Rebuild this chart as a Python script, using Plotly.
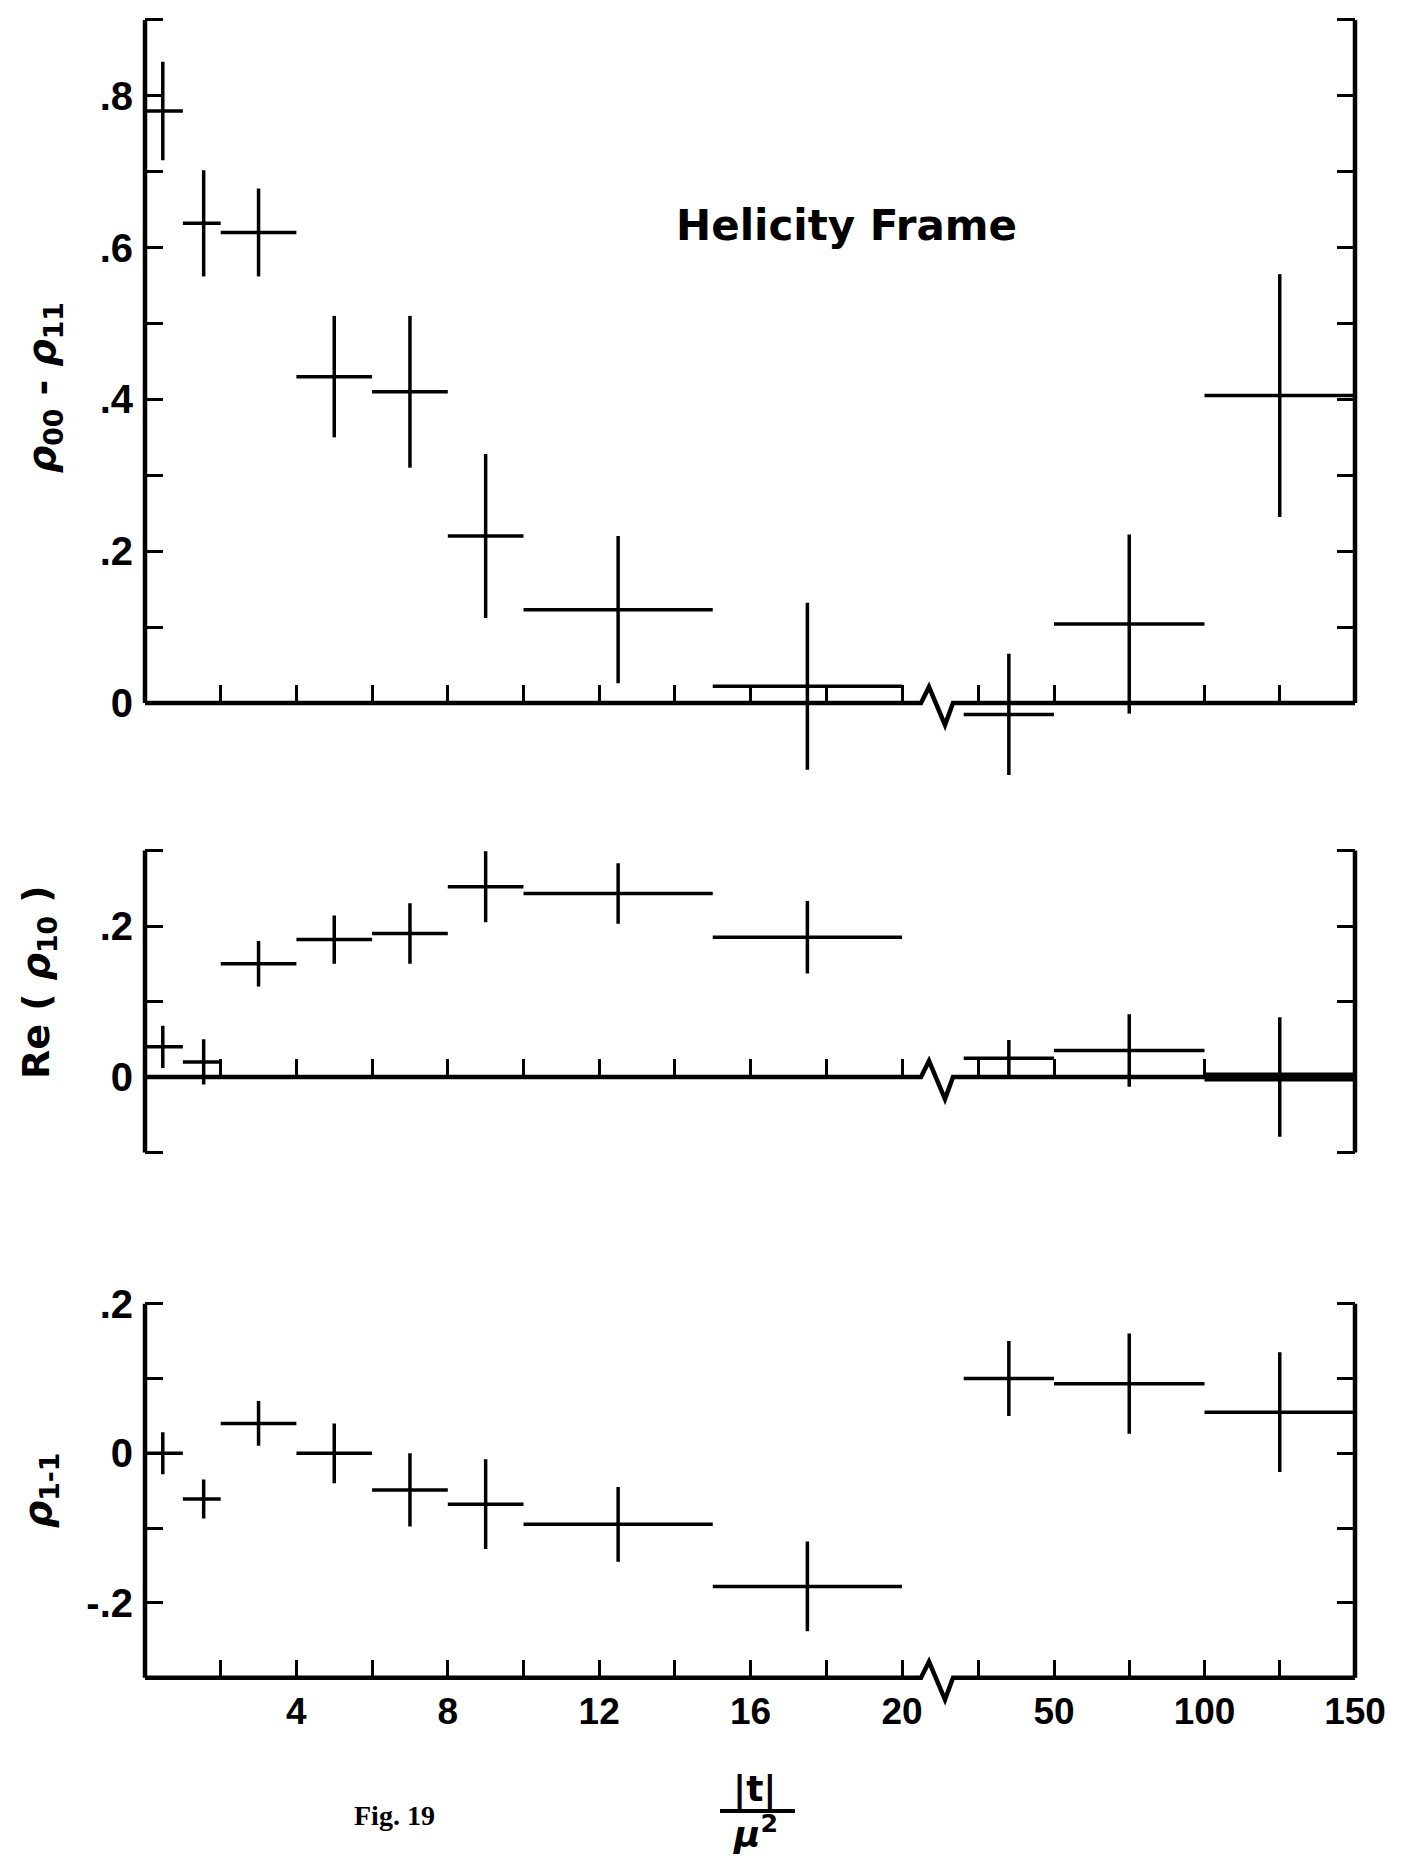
import plotly.graph_objects as go

# ---------------- data ----------------
# |t|/mu^2 bins: lower edge, upper edge, position of the vertical error bar
t_lo = [0, 1, 2, 4, 6, 8, 10, 15, 20, 50, 100]
t_hi = [1, 2, 4, 6, 8, 10, 15, 20, 50, 100, 150]
t_c = [0.47, 1.55, 3.0, 5.0, 7.0, 9.0, 12.5, 17.5, 35, 75, 125]

rho00_minus_rho11 = [0.78, 0.632, 0.62, 0.43, 0.41, 0.22, 0.123, 0.022, -0.015, 0.104, 0.405]
rho00_minus_rho11_err = [0.065, 0.07, 0.058, 0.08, 0.10, 0.108, 0.097, 0.11, 0.08, 0.118, 0.16]

re_rho10 = [0.04, 0.02, 0.15, 0.182, 0.19, 0.252, 0.243, 0.185, 0.025, 0.035, 0.0]
re_rho10_err = [0.028, 0.03, 0.03, 0.032, 0.04, 0.047, 0.04, 0.048, 0.024, 0.048, 0.079]

rho1m1 = [0.0, -0.061, 0.04, 0.0, -0.049, -0.068, -0.095, -0.178, 0.10, 0.093, 0.055]
rho1m1_err = [0.028, 0.026, 0.03, 0.04, 0.049, 0.06, 0.05, 0.06, 0.05, 0.067, 0.08]

# axis ticks / labels
xa_tickvals = [2, 4, 6, 8, 10, 12, 14, 16, 18, 20]
xa_labeled = [4, 8, 12, 16, 20]
xb_tickvals = [25, 50, 75, 100, 125, 150]
xb_labeled = [50, 100, 150]

top_ticks = [round(0.1 * i, 1) for i in range(0, 10)]
top_labels = {0.8: ".8", 0.6: ".6", 0.4: ".4", 0.2: ".2", 0.0: "0"}
mid_ticks = [-0.1, 0.0, 0.1, 0.2, 0.3]
mid_labels = {0.2: ".2", 0.0: "0"}
bot_ticks = [-0.3, -0.2, -0.1, 0.0, 0.1, 0.2]
bot_labels = {0.2: ".2", 0.0: "0", -0.2: "-.2"}

BREAK_INDEX = 8  # first bin drawn on the compressed part of the axis

# ---------------- geometry ----------------
W, H = 1416, 1860
FONT = "DejaVu Sans"
TICKFONT = "Liberation Sans"
XA_PX0, XA_PPU = 145.0, 37.85          # linear part 0..20
XB_REF, XB_PX_REF, XB_PPU = 50.0, 1054.0, 3.01   # compressed part 20..150
XA_DOM = (145.0, 921.0)
XB_DOM = (953.0, 1355.0)
xa_range = [0.0, (XA_DOM[1] - XA_PX0) / XA_PPU]
xb_range = [XB_REF - (XB_PX_REF - XB_DOM[0]) / XB_PPU,
            XB_REF + (XB_DOM[1] - XB_PX_REF) / XB_PPU]

panels = [
    dict(vals=rho00_minus_rho11, errs=rho00_minus_rho11_err, zero=703.0, ppu=759.0,
         rng=(-0.13, 0.92), axis=(0.0, 0.9), base=0.0, ticks=top_ticks, labels=top_labels,
         title="<i>ρ</i><sub>00</sub> - <i>ρ</i><sub>11</sub>", title_xy=(44, 388)),
    dict(vals=re_rho10, errs=re_rho10_err, zero=1077.0, ppu=755.0,
         rng=(-0.13, 0.32), axis=(-0.1, 0.3), base=0.0, ticks=mid_ticks, labels=mid_labels,
         title="Re ( <i>ρ</i><sub>10</sub> )", title_xy=(38, 982)),
    dict(vals=rho1m1, errs=rho1m1_err, zero=1453.3, ppu=748.0,
         rng=(-0.32, 0.22), axis=(-0.3, 0.2), base=-0.3, ticks=bot_ticks, labels=bot_labels,
         title="<i>ρ</i><sub>1-1</sub>", title_xy=(40, 1491)),
]

TICK = dict(ticks="inside", ticklen=18, tickwidth=3, tickcolor="black")
MINOR = dict(ticks="inside", ticklen=18, tickwidth=3, tickcolor="black", showgrid=False)


def fx(px):
    return px / W


def fy(py):
    return 1 - py / H


fig = go.Figure()
layout = dict(width=W, height=H, autosize=False,
              margin=dict(l=0, r=0, t=0, b=0, pad=0, autoexpand=False),
              paper_bgcolor="white", plot_bgcolor="rgba(0,0,0,0)",
              showlegend=False, shapes=[], annotations=[])

for i, p in enumerate(panels):
    nA, nB = 2 * i + 1, 2 * i + 2
    nL, nR = i + 1, i + 4
    xa_ref = "x" if nA == 1 else f"x{nA}"
    xb_ref = f"x{nB}"
    yl_ref = "y" if nL == 1 else f"y{nL}"
    yr_ref = f"y{nR}"

    def ypx(v, p=p):
        return p["zero"] - p["ppu"] * v

    py_top = ypx(p["rng"][1])
    py_bot = ypx(p["rng"][0])
    base_px = ypx(p["base"])
    is_bottom = (i == len(panels) - 1)

    # x axes (linear part + compressed part), sitting on the baseline
    common_x = dict(anchor="free", position=fy(base_px), side="bottom", showline=False,
                    showgrid=False, zeroline=False, fixedrange=True, automargin=False,
                    tickfont=dict(family=TICKFONT, size=37, color="black", weight="bold"),
                    ticklabelstandoff=8, showticklabels=is_bottom, tickmode="array", **TICK)
    for key, dom, rng, vals, lab in (
            ("xaxis" if nA == 1 else f"xaxis{nA}", XA_DOM, xa_range, xa_tickvals, xa_labeled),
            (f"xaxis{nB}", XB_DOM, xb_range, xb_tickvals, xb_labeled)):
        ax = dict(common_x, domain=[fx(dom[0]), fx(dom[1])], range=rng)
        if is_bottom:
            ax.update(tickvals=lab, ticktext=[str(v) for v in lab],
                      minor=dict(MINOR, tickmode="array",
                                 tickvals=[v for v in vals if v not in lab]))
        else:
            ax.update(tickvals=vals)
        layout[key] = ax

    common_y = dict(range=list(p["rng"]), showline=False, showgrid=False, zeroline=False,
                    fixedrange=True, automargin=False, tickmode="array", **TICK)
    lab_vals = [v for v in p["ticks"] if v in p["labels"]]
    layout["yaxis" if nL == 1 else f"yaxis{nL}"] = dict(
        common_y, domain=[fy(py_bot), fy(py_top)], anchor=xa_ref, side="left",
        tickvals=lab_vals, ticktext=[p["labels"][v] for v in lab_vals],
        minor=dict(MINOR, tickmode="array",
                   tickvals=[v for v in p["ticks"] if v not in p["labels"]]),
        tickfont=dict(family=TICKFONT, size=40, color="black", weight="bold"),
        ticklabelstandoff=11)
    layout[f"yaxis{nR}"] = dict(common_y, overlaying=yl_ref, anchor=xb_ref, side="right",
                                tickvals=p["ticks"], showticklabels=False)

    # data crosses
    segs = [(range(0, BREAK_INDEX), xa_ref), (range(BREAK_INDEX, len(t_c)), xb_ref)]
    for idx, xref in segs:
        idx = list(idx)
        thick_idx = [k for k in idx if i == 1 and k == len(t_c) - 1]
        norm_idx = [k for k in idx if k not in thick_idx]
        for group, xthick in ((norm_idx, 3.5), (thick_idx, 9)):
            if not group:
                continue
            fig.add_trace(go.Scatter(
                x=[t_c[k] for k in group], y=[p["vals"][k] for k in group],
                mode="markers", marker=dict(size=4, color="black"),
                error_x=dict(type="data", symmetric=False,
                             array=[t_hi[k] - t_c[k] for k in group],
                             arrayminus=[t_c[k] - t_lo[k] for k in group],
                             width=0, thickness=xthick, color="black"),
                error_y=dict(type="data", array=[p["errs"][k] for k in group],
                             width=0, thickness=3.5, color="black"),
                xaxis=xref, yaxis=yl_ref, cliponaxis=False, hoverinfo="skip"))

    # invisible anchor trace so that the right-hand tick axis is rendered
    fig.add_trace(go.Scatter(x=[t_c[-1]], y=[p["base"]], mode="markers",
                             marker=dict(size=1, opacity=0), xaxis=xb_ref, yaxis=yr_ref,
                             hoverinfo="skip"))

    # frame: left axis, baseline with break, right axis
    y_ax_top = ypx(p["axis"][1])
    y_ax_bot = ypx(p["axis"][0])
    bp = base_px
    zig = [(XA_DOM[1], bp), (929, bp - 16), (945, bp + 22), (XB_DOM[0], bp)]
    base_pts = [(XA_DOM[0], bp)] + zig + [(XB_DOM[1], bp)]
    base_path = "M " + " L ".join(f"{fx(x):.5f},{fy(y):.5f}" for x, y in base_pts)
    line = dict(color="black", width=4.5)
    layout["shapes"].append(dict(type="path", xref="paper", yref="paper",
                                 path=base_path, line=line, layer="above"))
    for xv in (XA_DOM[0], XB_DOM[1]):
        layout["shapes"].append(dict(type="line", xref="paper", yref="paper",
                                     x0=fx(xv), x1=fx(xv), y0=fy(y_ax_bot), y1=fy(y_ax_top),
                                     line=line, layer="above"))

    # y-axis title
    tx, ty = p["title_xy"]
    layout["annotations"].append(dict(
        text=p["title"], x=fx(tx), y=fy(ty), xref="paper", yref="paper",
        showarrow=False, textangle=-90, xanchor="center", yanchor="middle",
        font=dict(family=FONT, size=38, color="black", weight="bold")))

# Panel label
layout["annotations"].append(dict(
    text="Helicity Frame", x=fx(846), y=fy(226), xref="paper", yref="paper",
    showarrow=False, xanchor="center", yanchor="middle",
    font=dict(family=FONT, size=42, color="black", weight="bold")))

# x-axis title as a fraction |t| / mu^2
layout["annotations"].append(dict(
    text="<b>|t|</b>", x=fx(755), y=fy(1789), xref="paper", yref="paper",
    showarrow=False, xanchor="center", yanchor="middle",
    font=dict(family=FONT, size=36, color="black")))
layout["annotations"].append(dict(
    text="<b><i>μ</i></b><sup><b>2</b></sup>", x=fx(755), y=fy(1832), xref="paper", yref="paper",
    showarrow=False, xanchor="center", yanchor="middle",
    font=dict(family=FONT, size=36, color="black")))
layout["shapes"].append(dict(type="line", xref="paper", yref="paper",
                             x0=fx(720), x1=fx(795), y0=fy(1811), y1=fy(1811),
                             line=dict(color="black", width=4)))

layout["annotations"].append(dict(
    text="<b>Fig. 19</b>", x=fx(394), y=fy(1815), xref="paper", yref="paper",
    showarrow=False, xanchor="center", yanchor="middle",
    font=dict(family="Liberation Serif", size=28, color="black")))

fig.update_layout(**layout)
fig.write_html("out.html")
